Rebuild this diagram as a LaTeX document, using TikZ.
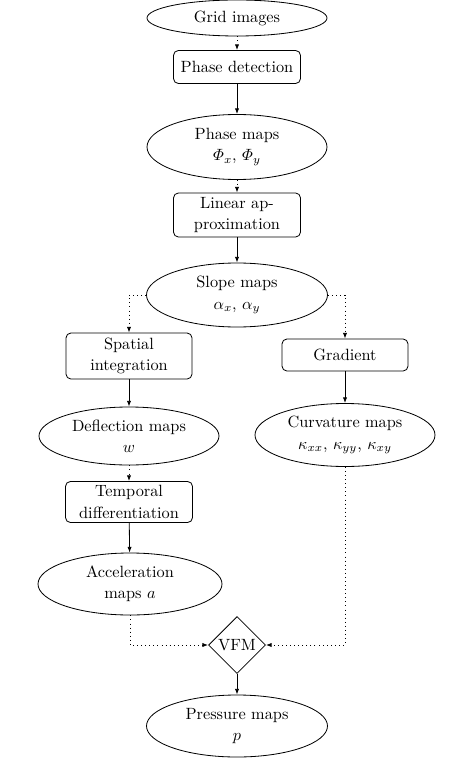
\documentclass[tikz,border=0pt]{standalone}
\usepackage{amsmath}
\usetikzlibrary{shapes.geometric,arrows.meta}
\begin{document}
\begin{tikzpicture}[x=0.6135pt,y=-0.6135pt,
  every node/.style={font=\fontsize{10pt}{13pt}\selectfont, align=center, line width=0.5pt},
  mapnode/.style={draw, ellipse, inner sep=0pt, minimum width={180*0.6135pt}},
  stepbox/.style={draw, rectangle, rounded corners=3pt, inner sep=2pt, minimum width={127*0.6135pt}},
  decide/.style={draw, diamond, aspect=1, inner sep=1pt, minimum width={57*0.6135pt}, minimum height={57*0.6135pt}},
  arr/.style={-{Latex[length=3.5pt,width=2.6pt]}, line width=0.5pt},
  darr/.style={arr, dotted}
]
\useasboundingbox (0,0) rectangle (474,758);
\node[mapnode, minimum height={36*0.6135pt}] (grid) at (237,18) {Grid images};
\node[stepbox, minimum height={33*0.6135pt}] (pdet) at (237,67) {Phase detection};
\node[mapnode, minimum height={65*0.6135pt}] (pmaps) at (237,147) {Phase maps\\$\varPhi_x$, $\varPhi_y$};
\node[stepbox, minimum height={44*0.6135pt}] (lin) at (237,215) {Linear ap-\\proximation};
\node[mapnode, minimum width={181*0.6135pt}, minimum height={64*0.6135pt}] (slope) at (237,295) {Slope maps\\$\alpha_x$, $\alpha_y$};
\node[stepbox, minimum width={126*0.6135pt}, minimum height={46*0.6135pt}] (spat) at (129,356) {Spatial\\integration};
\node[stepbox, minimum width={126*0.6135pt}, minimum height={32*0.6135pt}] (grad) at (345,355) {Gradient};
\node[mapnode, minimum height={58*0.6135pt}] (defl) at (129,436) {Deflection maps\\$w$};
\node[mapnode, minimum height={63*0.6135pt}] (curv) at (345,435) {Curvature maps\\$\kappa_{xx}$, $\kappa_{yy}$, $\kappa_{xy}$};
\node[stepbox, minimum height={41*0.6135pt}] (temp) at (129,502) {Temporal\\differentiation};
\node[mapnode, minimum width={184*0.6135pt}, minimum height={62*0.6135pt}] (acc) at (130,584) {Acceleration\\maps $a$};
\node[decide] (vfm) at (237,645) {VFM};
\node[mapnode, minimum width={181*0.6135pt}, minimum height={62*0.6135pt}] (pres) at (237,726) {Pressure maps\\$p$};

\draw[darr] (grid) -- (pdet);
\draw[arr] (pdet) -- (pmaps);
\draw[darr] (pmaps) -- (lin);
\draw[arr] (lin) -- (slope);
\draw[darr] (slope.west) -| (spat.north);
\draw[darr] (slope.east) -| (grad.north);
\draw[arr] (spat) -- (defl);
\draw[arr] (grad) -- (curv);
\draw[darr] (defl) -- (temp);
\draw[arr] (temp) -- (acc);
\draw[darr] (acc.south) |- (vfm.west);
\draw[darr] (curv.south) |- (vfm.east);
\draw[arr] (vfm) -- (pres);
\end{tikzpicture}
\end{document}
